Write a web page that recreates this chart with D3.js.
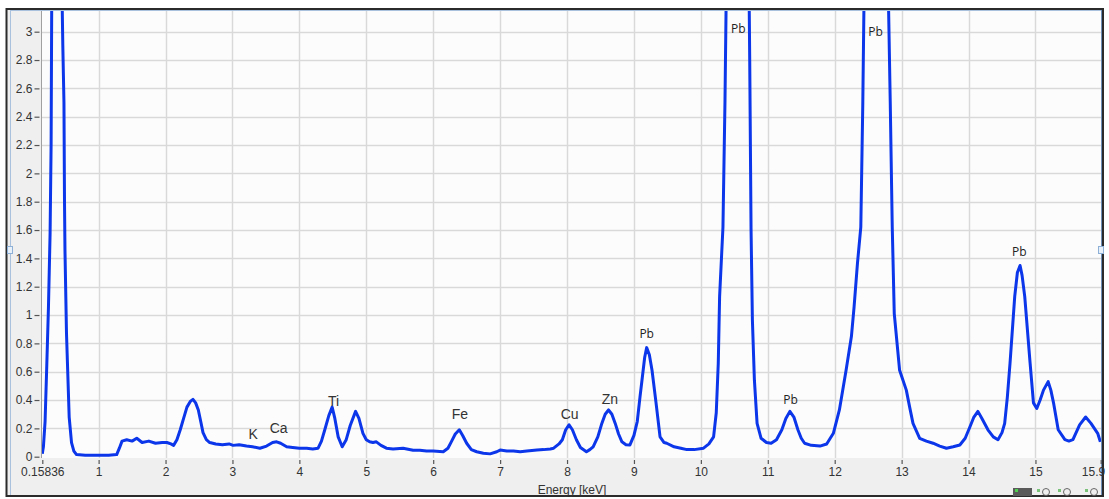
<!DOCTYPE html>
<html>
<head>
<meta charset="utf-8">
<script src="https://cdn.jsdelivr.net/npm/d3@7"></script>
<style>
  html, body { margin: 0; padding: 0; background: #ffffff; }
  svg { display: block; }
</style>
</head>
<body>
<svg id="chart" width="1109" height="499"></svg>
<script>
// ---- data ----
const energy = [
  0.158, 0.175, 0.20, 0.225, 0.25, 0.275, 0.29, 0.30, 0.34, 0.38, 0.42, 0.455, 0.465, 0.482, 0.49, 0.497, 0.52, 0.56, 0.595, 0.63, 0.67,
  0.80, 1.00, 1.15, 1.27, 1.31, 1.35, 1.42, 1.50, 1.57, 1.65, 1.75, 1.85, 1.95, 2.02, 2.08, 2.12, 2.17, 2.22, 2.27, 2.32, 2.37, 2.41,
  2.45, 2.49, 2.53, 2.56, 2.61, 2.66, 2.75, 2.85, 2.95, 3.01, 3.10, 3.21, 3.30, 3.41, 3.51, 3.60, 3.66, 3.72, 3.81, 3.90, 4.00, 4.11,
  4.20, 4.28, 4.33, 4.38, 4.44, 4.49, 4.53, 4.58, 4.64, 4.70, 4.76, 4.84, 4.89, 4.95, 5.00, 5.05, 5.10, 5.15, 5.22, 5.30, 5.40, 5.55,
  5.70, 5.80, 5.90, 6.00, 6.15, 6.22, 6.27, 6.33, 6.39, 6.44, 6.50, 6.57, 6.65, 6.75, 6.85, 6.95, 7.00, 7.10, 7.20, 7.30, 7.40, 7.55,
  7.65, 7.75, 7.80, 7.88, 7.93, 7.98, 8.03, 8.08, 8.14, 8.20, 8.29, 8.34, 8.39, 8.46, 8.52, 8.57, 8.62, 8.67, 8.72, 8.77, 8.82, 8.88,
  8.94, 9.00, 9.05, 9.09, 9.12, 9.16, 9.19, 9.23, 9.27, 9.33, 9.39, 9.45, 9.49, 9.60, 9.70, 9.79, 9.90, 10.04, 10.12, 10.19, 10.23,
  10.26, 10.28, 10.33, 10.36, 10.38, 10.45, 10.55, 10.65, 10.72, 10.73, 10.75, 10.77, 10.80, 10.84, 10.90, 10.98, 11.05, 11.13, 11.21,
  11.27, 11.33, 11.39, 11.45, 11.50, 11.55, 11.65, 11.78, 11.88, 11.98, 12.07, 12.17, 12.25, 12.29, 12.34, 12.39, 12.42, 12.44, 12.55,
  12.65, 12.75, 12.80, 12.83, 12.86, 12.89, 12.97, 13.07, 13.12, 13.17, 13.27, 13.37, 13.47, 13.57, 13.67, 13.77, 13.87, 13.95, 14.02,
  14.08, 14.14, 14.20, 14.29, 14.37, 14.44, 14.50, 14.54, 14.58, 14.62, 14.69, 14.73, 14.77, 14.80, 14.84, 14.92, 14.97, 15.02, 15.07,
  15.12, 15.19, 15.23, 15.27, 15.34, 15.44, 15.50, 15.56, 15.66, 15.75, 15.83, 15.93, 15.97
];
const counts = [
  0.02, 0.07, 0.25, 0.64, 1.05, 1.58, 2.2, 3.3, 5.5, 6.5, 5.5, 3.2, 2.9, 2.5, 1.81, 1.46, 0.87, 0.28, 0.10, 0.04, 0.015,
  0.01, 0.01, 0.01, 0.015, 0.06, 0.11, 0.12, 0.11, 0.13, 0.10, 0.11, 0.095, 0.10, 0.10, 0.09, 0.08, 0.12, 0.19, 0.27, 0.35, 0.39, 0.405,
  0.38, 0.33, 0.24, 0.17, 0.12, 0.10, 0.09, 0.085, 0.09, 0.08, 0.085, 0.075, 0.07, 0.06, 0.075, 0.10, 0.105, 0.095, 0.07, 0.065, 0.06, 0.06,
  0.055, 0.06, 0.11, 0.19, 0.29, 0.35, 0.27, 0.14, 0.07, 0.12, 0.22, 0.32, 0.27, 0.165, 0.12, 0.105, 0.10, 0.105, 0.08, 0.06, 0.055, 0.06,
  0.045, 0.045, 0.04, 0.04, 0.035, 0.06, 0.105, 0.16, 0.19, 0.15, 0.095, 0.05, 0.035, 0.025, 0.02, 0.035, 0.047, 0.04, 0.04, 0.035, 0.04, 0.047,
  0.05, 0.055, 0.06, 0.09, 0.12, 0.19, 0.225, 0.19, 0.12, 0.065, 0.035, 0.05, 0.07, 0.14, 0.235, 0.30, 0.33, 0.30, 0.235, 0.16, 0.105, 0.085,
  0.083, 0.15, 0.25, 0.42, 0.54, 0.70, 0.77, 0.72, 0.61, 0.38, 0.14, 0.10, 0.095, 0.07, 0.06, 0.05, 0.05, 0.06, 0.09, 0.14, 0.31,
  0.66, 1.13, 1.62, 2.5, 3.3, 5.0, 5.8, 5.0, 3.3, 2.8, 1.6, 0.965, 0.54, 0.235, 0.13, 0.10, 0.095, 0.12, 0.19,
  0.27, 0.32, 0.28, 0.19, 0.13, 0.095, 0.08, 0.075, 0.09, 0.165, 0.33, 0.61, 0.85, 1.06, 1.365, 1.62, 2.5, 3.3, 6.0,
  6.5, 5.0, 3.3, 2.5, 1.62, 1.01, 0.61, 0.47, 0.35, 0.235, 0.13, 0.11, 0.095, 0.075, 0.06, 0.07, 0.083, 0.13, 0.21,
  0.28, 0.32, 0.27, 0.19, 0.14, 0.12, 0.17, 0.235, 0.42, 0.66, 1.13, 1.30, 1.35, 1.28, 1.13, 0.66, 0.38, 0.34, 0.40,
  0.47, 0.53, 0.47, 0.38, 0.19, 0.12, 0.11, 0.12, 0.225, 0.28, 0.235, 0.165, 0.105
];

const xTickValues = [0.15836, 1, 2, 3, 4, 5, 6, 7, 8, 9, 10, 11, 12, 13, 14, 15, 15.975];
const xTickLabels = ["0.15836", "1", "2", "3", "4", "5", "6", "7", "8", "9", "10", "11", "12", "13", "14", "15", "15.9"];
const yTickValues = [0, 0.2, 0.4, 0.6, 0.8, 1, 1.2, 1.4, 1.6, 1.8, 2, 2.2, 2.4, 2.6, 2.8, 3];
const yTickLabels = ["0", "0.2", "0.4", "0.6", "0.8", "1", "1.2", "1.4", "1.6", "1.8", "2", "2.2", "2.4", "2.6", "2.8", "3"];

const peakNames = ["K", "Ca", "Ti", "Fe", "Cu", "Zn"];
const peakEnergy = [3.31, 3.69, 4.51, 6.40, 8.04, 8.64];
const peakLabelY = [0.125, 0.17, 0.36, 0.265, 0.265, 0.375];

const pbEnergy = [9.19, 10.56, 12.61, 11.34, 14.76];
const pbLabelY = [0.84, 2.99, 2.97, 0.375, 1.42];

const xAxisTitle = "Energy [keV]";

// ---- layout ----
const svg = d3.select("#chart");
const plot = { left: 41, right: 1101, top: 11, bottom: 458 };

const x = d3.scaleLinear().domain([0.15836, 15.975]).range([42.3, 1100.7]);
const y = d3.scaleLinear().domain([0, 3]).range([456.7, 31.7]);

// outer frame
svg.append("rect").attr("x", 6.5).attr("y", 9).attr("width", 1096.5).attr("height", 487)
  .attr("fill", "#efefef").attr("stroke", "#2b2b2b").attr("stroke-width", 2);
svg.append("line").attr("x1", 10.5).attr("x2", 10.5).attr("y1", 10).attr("y2", 495)
  .attr("stroke", "#a9c1dc").attr("stroke-width", 1);
svg.append("line").attr("x1", 10).attr("x2", 1102).attr("y1", 10.5).attr("y2", 10.5)
  .attr("stroke", "#a9c1dc").attr("stroke-width", 1);
svg.append("line").attr("x1", 1101.5).attr("x2", 1101.5).attr("y1", 10).attr("y2", 495)
  .attr("stroke", "#6d8fb8").attr("stroke-width", 1);

// plot background
svg.append("rect").attr("x", plot.left).attr("y", plot.top)
  .attr("width", plot.right - plot.left).attr("height", plot.bottom - plot.top)
  .attr("fill", "#fcfcfc");
svg.append("line").attr("x1", plot.left + 0.5).attr("x2", plot.left + 0.5)
  .attr("y1", plot.top).attr("y2", plot.bottom).attr("stroke", "#a0a0a0").attr("stroke-width", 1);

// gridlines
const grid = svg.append("g");
grid.selectAll("line.h").data(yTickValues.filter(v => v > 0)).join("line")
  .attr("x1", plot.left + 1).attr("x2", plot.right)
  .attr("y1", d => Math.round(y(d)) + 0.5).attr("y2", d => Math.round(y(d)) + 0.5)
  .attr("stroke", "#d9d9d9").attr("stroke-width", 1.5);
grid.selectAll("line.v").data(xTickValues.slice(1, -1)).join("line")
  .attr("x1", d => Math.round(x(d)) + 0.5).attr("x2", d => Math.round(x(d)) + 0.5)
  .attr("y1", plot.top).attr("y2", plot.bottom)
  .attr("stroke", "#d9d9d9").attr("stroke-width", 1.5);

// axes
const fontAxis = "'Liberation Sans', Arial, sans-serif";
const yAxis = d3.axisLeft(y).tickValues(yTickValues)
  .tickFormat((d, i) => yTickLabels[i]).tickSize(5).tickPadding(2);
const gy = svg.append("g").attr("transform", "translate(39.5,0)").call(yAxis);
gy.select(".domain").remove();
gy.selectAll(".tick line").attr("stroke", "#555").attr("stroke-width", 1.2);
gy.selectAll(".tick text").attr("font-family", fontAxis).attr("font-size", 12).attr("fill", "#333");

const xAxis = d3.axisBottom(x).tickValues(xTickValues)
  .tickFormat((d, i) => xTickLabels[i]).tickSize(4).tickPadding(3);
const gx = svg.append("g").attr("transform", "translate(0,460)").call(xAxis);
gx.select(".domain").remove();
gx.selectAll(".tick line").attr("stroke", "#555").attr("stroke-width", 1.2);
gx.selectAll(".tick text").attr("font-family", fontAxis).attr("font-size", 12).attr("fill", "#333");
gx.selectAll(".tick text").filter((d, i) => i === xTickValues.length - 1).attr("text-anchor", "end").attr("dx", 4);

svg.append("text").attr("x", 572).attr("y", 494).attr("text-anchor", "middle")
  .attr("font-family", fontAxis).attr("font-size", 12).attr("fill", "#333").text(xAxisTitle);

// spectrum
svg.append("clipPath").attr("id", "clip").append("rect")
  .attr("x", plot.left + 1).attr("y", plot.top).attr("width", plot.right - plot.left - 1).attr("height", plot.bottom - plot.top);
const pts = energy.map((e, i) => [e, counts[i]]);
const line = d3.line().x(d => x(d[0])).y(d => y(d[1]));
svg.append("path").datum(pts).attr("clip-path", "url(#clip)")
  .attr("d", line).attr("fill", "none").attr("stroke", "#0b36ea")
  .attr("stroke-width", 3).attr("stroke-linejoin", "round");

// element labels
svg.append("g").selectAll("text").data(peakNames).join("text")
  .attr("x", (d, i) => x(peakEnergy[i])).attr("y", (d, i) => y(peakLabelY[i]))
  .attr("text-anchor", "middle").attr("font-family", fontAxis).attr("font-size", 14)
  .attr("fill", "#333").text(d => d);
svg.append("g").selectAll("text").data(pbEnergy).join("text")
  .attr("x", d => x(d)).attr("y", (d, i) => y(pbLabelY[i]))
  .attr("text-anchor", "middle").attr("font-family", "'Open Sans', 'Noto Sans', sans-serif")
  .attr("font-size", 12).attr("fill", "#222").text("Pb");

// small handles
svg.append("rect").attr("x", 7.5).attr("y", 246.5).attr("width", 5).attr("height", 7)
  .attr("fill", "#e8f0fa").attr("stroke", "#8fb0d6").attr("stroke-width", 1);
svg.append("rect").attr("x", 1098.5).attr("y", 246.5).attr("width", 5).attr("height", 7)
  .attr("fill", "#e8f0fa").attr("stroke", "#8fb0d6").attr("stroke-width", 1);

// toolbar icons (bottom right)
const tb = svg.append("g");
tb.append("rect").attr("x", 1013).attr("y", 488).attr("width", 19).attr("height", 8).attr("fill", "#5a5a5a");
tb.append("rect").attr("x", 1015).attr("y", 489).attr("width", 3).attr("height", 3).attr("fill", "#4fd04f");
[1037, 1058, 1085].forEach(px => {
  tb.append("rect").attr("x", px).attr("y", 489).attr("width", 3).attr("height", 3).attr("fill", "#7ac27a");
  tb.append("circle").attr("cx", px + 9).attr("cy", 492).attr("r", 3.5)
    .attr("fill", "none").attr("stroke", "#666").attr("stroke-width", 1);
});
</script>
</body>
</html>
